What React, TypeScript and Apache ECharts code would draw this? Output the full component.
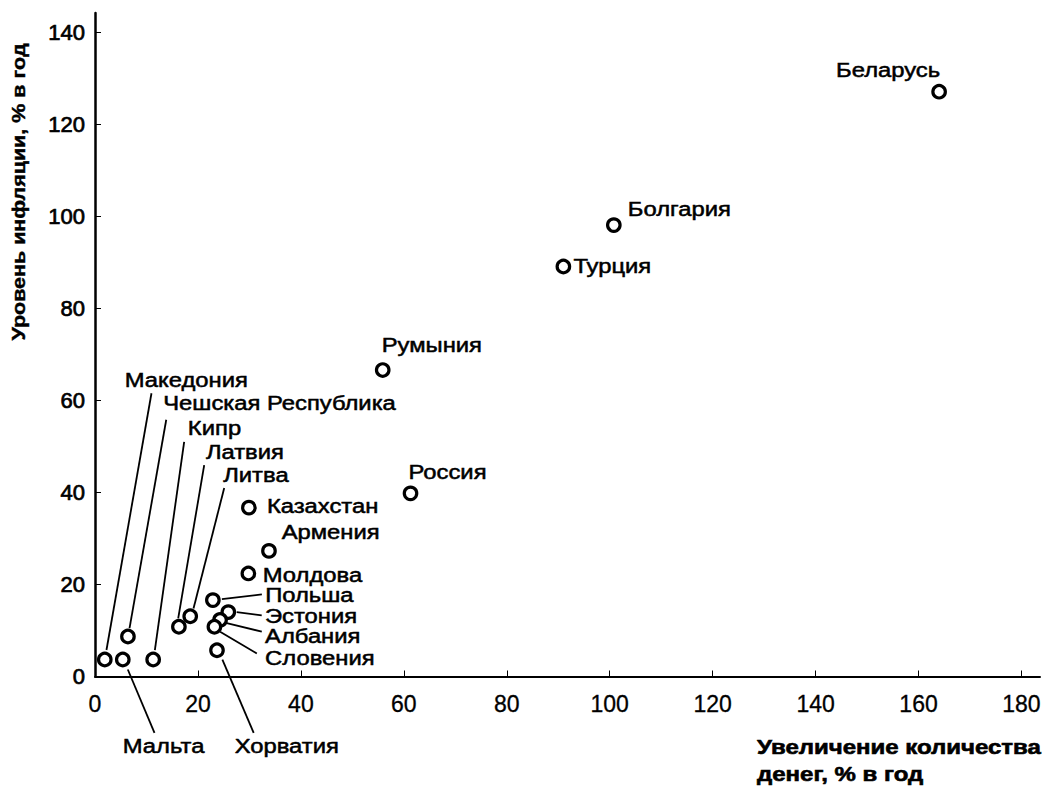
import React, { useEffect, useRef } from "react";
import * as echarts from "echarts";

// ---- data ----
const countries = [
  "Беларусь", "Болгария", "Турция", "Румыния", "Россия",
  "Казахстан", "Армения", "Молдова", "Польша", "Эстония",
  "Албания", "Словения", "Хорватия", "Литва", "Латвия",
  "Кипр", "Чешская Республика", "Мальта", "Македония",
];
const moneyGrowth = [
  164.0, 100.8, 91.0, 55.9, 61.3,
  29.9, 33.8, 29.8, 22.9, 25.9,
  24.3, 23.2, 23.7, 18.5, 16.3,
  11.3, 6.4, 5.4, 1.9,
];
const inflation = [
  127.1, 98.1, 89.1, 66.6, 39.8,
  36.7, 27.3, 22.4, 16.6, 14.0,
  12.3, 10.8, 5.7, 13.1, 10.8,
  3.7, 8.7, 3.7, 3.7,
];
const xTickLabels = [0, 20, 40, 60, 80, 100, 120, 140, 160, 180];
const yTickLabels = [0, 20, 40, 60, 80, 100, 120, 140];
const xAxisTitle = "Увеличение количества\nденег, % в год";
const yAxisTitle = "Уровень инфляции, % в год";

// ---- label layout (pixel offsets relative to the point) ----
type Lay = { dx: number; dy: number; align?: "left" | "right"; line?: [number, number, number, number] };
const labelLayout: Record<string, Lay> = {
  "Беларусь": { dx: 1, dy: -21.7, align: "right" },
  "Болгария": { dx: 14, dy: -16 },
  "Турция": { dx: 10, dy: 0 },
  "Румыния": { dx: -1, dy: -25 },
  "Россия": { dx: -2, dy: -21.6 },
  "Казахстан": { dx: 18, dy: -1 },
  "Армения": { dx: 12.7, dy: -19 },
  "Молдова": { dx: 14.4, dy: 1.7 },
  "Польша": { dx: 52.3, dy: -5, line: [9, -1, 49, -5.7] },
  "Эстония": { dx: 36.7, dy: 3.7, line: [8.4, 0, 33.4, 3.4] },
  "Албания": { dx: 45, dy: 16, line: [6.7, 3.3, 41.7, 11.7] },
  "Словения": { dx: 50.7, dy: 31, line: [5.7, 5, 42.4, 26.6] },
  "Хорватия": { dx: 17.7, dy: 96, line: [5.4, 9.3, 36.7, 82.6] },
  "Литва": { dx: 33, dy: -141, line: [34, -128.3, 3.3, -7.7] },
  "Латвия": { dx: 27, dy: -175, line: [25.3, -161.7, -0.7, -8.4] },
  "Кипр": { dx: 34.7, dy: -231.3, line: [31, -217.6, 1.7, -9.3] },
  "Чешская Республика": { dx: 35.3, dy: -233.7, line: [38.3, -216.7, 1.6, -8.4] },
  "Мальта": { dx: 0, dy: 86.7, line: [5, 10, 31.7, 73.3] },
  "Македония": { dx: 20, dy: -279.5, line: [46.7, -266.2, 1.7, -9.5] },
};

const FONT = '"Liberation Sans", Arial, Helvetica, sans-serif';

export default function App() {
  const ref = useRef<HTMLDivElement>(null);
  useEffect(() => {
    if (!ref.current) return;
    const chart = echarts.init(ref.current, null, { renderer: "svg" });
    const points = countries.map((c, i) => [moneyGrowth[i], inflation[i], c]);
    chart.setOption({
      animation: false,
      backgroundColor: "#fff",
      grid: { left: 95, top: 13, right: 8, bottom: 109.5, containLabel: false },
      xAxis: {
        type: "value",
        min: 0,
        max: 183.6,
        splitLine: { show: false },
        axisLine: { show: true, onZero: false, lineStyle: { color: "#000", width: 2 } },
        axisTick: {
          show: true,
          inside: true,
          length: 6,
          customValues: xTickLabels.filter((v) => v > 0),
          lineStyle: { color: "#000", width: 1 },
        },
        axisLabel: {
          customValues: xTickLabels,
          margin: 16,
          color: "#000",
          fontFamily: FONT,
          fontSize: 23,
          textBorderColor: "#000",
          textBorderWidth: 0.3,
        },
      },
      yAxis: {
        type: "value",
        min: 0,
        max: 144.2,
        splitLine: { show: false },
        axisLine: { show: true, onZero: false, lineStyle: { color: "#000", width: 2.5 } },
        axisTick: {
          show: true,
          inside: true,
          length: 6,
          customValues: yTickLabels.filter((v) => v > 0),
          lineStyle: { color: "#000", width: 1 },
        },
        axisLabel: {
          customValues: yTickLabels,
          margin: 10,
          color: "#000",
          fontFamily: FONT,
          fontSize: 22,
          textBorderColor: "#000",
          textBorderWidth: 0.7,
        },
      },
      graphic: [
        {
          type: "text",
          x: 18,
          y: 192,
          rotation: Math.PI / 2,
          scaleX: 1.13,
          style: {
            text: yAxisTitle,
            font: `bold 19px ${FONT}`,
            fill: "#000",
            align: "center",
            verticalAlign: "middle",
            stroke: "#000",
            lineWidth: 0.4,
          },
        },
        {
          type: "text",
          x: 757,
          y: 734,
          scaleX: 1.2,
          style: {
            text: xAxisTitle,
            font: `bold 20px ${FONT}`,
            fill: "#000",
            align: "left",
            verticalAlign: "top",
            lineHeight: 27,
            stroke: "#000",
            lineWidth: 0.6,
          },
        },
      ],
      series: [
        {
          type: "custom",
          z: 1,
          clip: false,
          data: points,
          renderItem: (params: any, api: any) => {
            const i = params.dataIndex;
            const name = countries[i];
            const lay = labelLayout[name];
            const p = api.coord([api.value(0), api.value(1)]);
            const children: any[] = [
              {
                type: "text",
                x: p[0] + lay.dx,
                y: p[1] + lay.dy,
                scaleX: 1.19,
                style: {
                  text: name,
                  font: `20px ${FONT}`,
                  fill: "#000",
                  align: lay.align || "left",
                  verticalAlign: "middle",
                  stroke: "#000",
                  lineWidth: 0.5,
                },
              },
            ];
            if (lay.line) {
              children.push({
                type: "line",
                shape: {
                  x1: p[0] + lay.line[0],
                  y1: p[1] + lay.line[1],
                  x2: p[0] + lay.line[2],
                  y2: p[1] + lay.line[3],
                },
                style: { stroke: "#000", lineWidth: 1.8 },
              });
            }
            return { type: "group", children };
          },
        },
        {
          type: "scatter",
          z: 3,
          data: points,
          symbol: "circle",
          symbolSize: 12.5,
          itemStyle: { color: "#fff", borderColor: "#000", borderWidth: 3.2, opacity: 1 },
          emphasis: { disabled: true },
        },
      ],
    });
    return () => chart.dispose();
  }, []);
  return (
    <div
      ref={ref}
      style={{ position: "absolute", left: 0, top: 0, width: 1048, height: 786, background: "#fff" }}
    />
  );
}
